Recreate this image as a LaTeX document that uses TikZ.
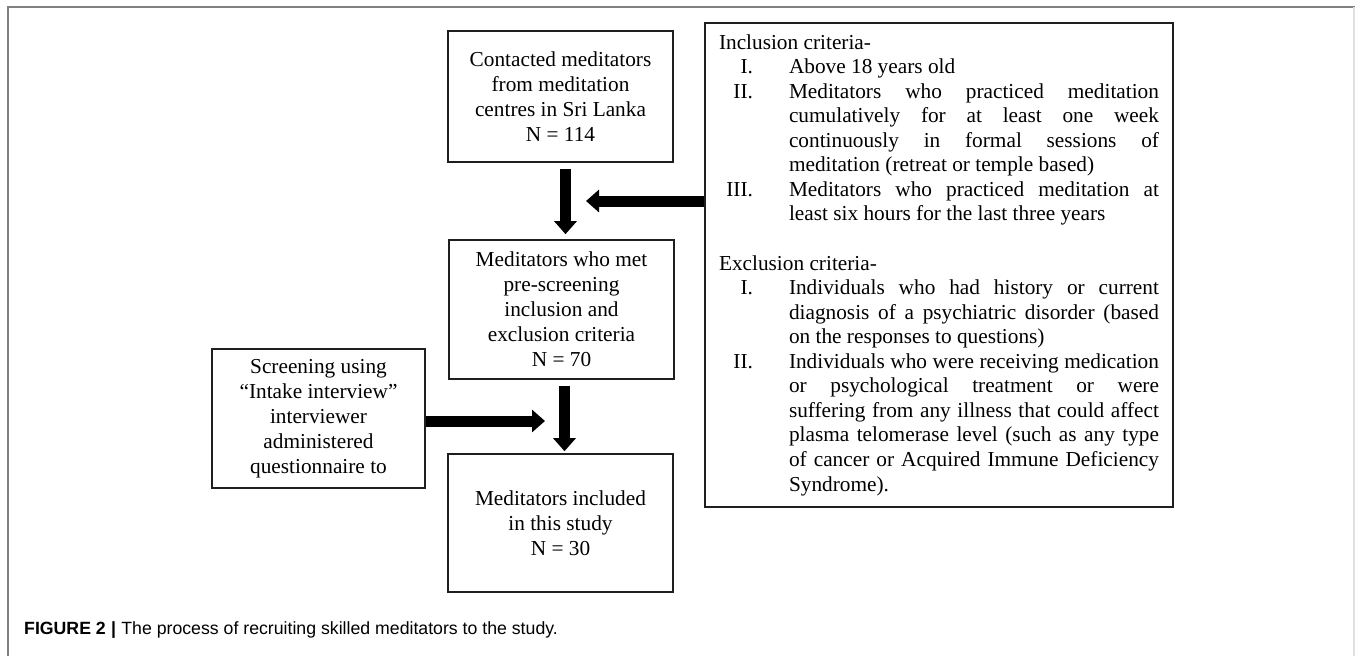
\documentclass[tikz,border=0pt]{standalone}
\usepackage{fontspec}
\setmainfont{Liberation Serif}
\newfontfamily\capfont{Liberation Sans}
\usetikzlibrary{arrows.meta,calc}
\newcommand\critem[2]{{\leftskip=70pt\noindent\llap{#1\hspace{36pt}}#2\par}}
\tikzset{
  box/.style={draw=black!88, line width=1.6pt, minimum width=225pt, align=center, inner sep=0pt,
    font=\fontsize{21.3}{25}\selectfont},
  bigarrow/.style={line width=11pt, draw=black, -{Triangle[width=22pt,length=13pt]}},
  frame/.style={draw=black!50, line width=1.5pt},
}
\begin{document}
\begin{tikzpicture}[x=1pt,y=-1pt]
\useasboundingbox[fill=white] (0,0) rectangle (1355,656);
\draw[frame] (8,656) -- (8,7) -- (1355,7);
\draw[draw=black!12, line width=1.5pt] (1354,7) -- (1354,656);

\node[box, minimum height=131pt] (b1) at (560.5,96.5) {Contacted meditators\\from meditation\\centres in Sri Lanka\\N = 114};
\node[box, minimum height=139pt] (b2) at (561.5,309.5) {Meditators who met\\pre-screening\\inclusion and\\exclusion criteria\\N = 70};
\node[box, minimum height=138pt] (b3) at (560.5,523) {Meditators included\\in this study\\N = 30};
\node[box, minimum width=213pt, minimum height=139pt] (scr) at (318.5,418.5) {Screening using\\``Intake interview''\\interviewer\\administered\\questionnaire to};

\node[draw=black!88, line width=1.6pt, minimum width=468pt, minimum height=484pt, inner xsep=14pt, inner ysep=0pt,
  text width=440pt, align=justify, font=\fontsize{21.3}{24.55}\selectfont] (crit) at (939,265) {%
\parindent=0pt
Inclusion criteria-\par
\critem{I.}{Above 18 years old}
\critem{II.}{Meditators who practiced meditation\linebreak cumulatively for at least one week\linebreak continuously in formal sessions of\linebreak meditation (retreat or temple based)}
\critem{III.}{Meditators who practiced meditation at\linebreak least six hours for the last three years}
\vskip\baselineskip
Exclusion criteria-\par
\critem{I.}{Individuals who had history or current\linebreak diagnosis of a psychiatric disorder (based\linebreak on the responses to questions)}
\critem{II.}{Individuals who were receiving medication\linebreak or psychological treatment or were\linebreak suffering from any illness that could affect\linebreak plasma telomerase level (such as any type\linebreak of cancer or Acquired Immune Deficiency\linebreak Syndrome).}
};

\coordinate (m1) at ($(b1.south)!0.5!(b2.north)+(5,0)$);
\coordinate (m2) at ($(b2.south)!0.5!(b3.north)+(4,0)$);
\draw[bigarrow, shorten <=6pt, shorten >=5pt] ([xshift=5pt]b1.south) -- ([xshift=5pt]b1.south |- b2.north);
\draw[bigarrow, shorten <=6pt, shorten >=2pt] ([xshift=3pt]b2.south) -- ([xshift=3pt]b2.south |- b3.north);
\draw[bigarrow, shorten >=20pt] (crit.west |- m1) -- (m1);
\draw[bigarrow, shorten >=20pt] ([yshift=-2.5pt]scr.east) -- ([yshift=-2.5pt]scr.east -| m2);

\node[anchor=base west, inner sep=0pt, font=\capfont\fontsize{17.7}{20}\selectfont] (cap) at (24,634)
  {\textbf{FIGURE 2}\hspace{0.3em}\textbf{|}\hspace{0.3em}The process of recruiting skilled meditators to the study.};
\end{tikzpicture}
\end{document}
